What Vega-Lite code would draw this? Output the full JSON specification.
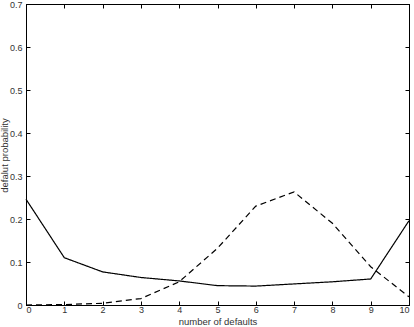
{
  "$schema": "https://vega.github.io/schema/vega-lite/v6.json",
  "width": 383,
  "height": 301,
  "autosize": "none",
  "padding": {"left": 26, "top": 4, "right": 4, "bottom": 22},
  "background": "white",
  "config": {
    "view": {"stroke": "black", "strokeWidth": 1},
    "axis": {"labelFont": "Liberation Sans", "titleFont": "Liberation Sans", "labelFontSize": 9, "titleFontSize": 9.5, "titleFontWeight": "normal", "labelColor": "#333", "titleColor": "#333", "domainColor": "black", "tickColor": "black", "grid": false}
  },
  "data": {"values": [
    {"n": 0, "p": 0.246, "s": "a"}, {"n": 1, "p": 0.110, "s": "a"}, {"n": 2, "p": 0.077, "s": "a"}, {"n": 3, "p": 0.064, "s": "a"}, {"n": 4, "p": 0.056, "s": "a"}, {"n": 5, "p": 0.045, "s": "a"}, {"n": 6, "p": 0.044, "s": "a"}, {"n": 7, "p": 0.049, "s": "a"}, {"n": 8, "p": 0.054, "s": "a"}, {"n": 9, "p": 0.0605, "s": "a"}, {"n": 10, "p": 0.196, "s": "a"},
    {"n": 0, "p": 0.0, "s": "b"}, {"n": 1, "p": 0.001, "s": "b"}, {"n": 2, "p": 0.004, "s": "b"}, {"n": 3, "p": 0.015, "s": "b"}, {"n": 4, "p": 0.054, "s": "b"}, {"n": 5, "p": 0.132, "s": "b"}, {"n": 6, "p": 0.230, "s": "b"}, {"n": 7, "p": 0.263, "s": "b"}, {"n": 8, "p": 0.190, "s": "b"}, {"n": 9, "p": 0.089, "s": "b"}, {"n": 10, "p": 0.019, "s": "b"}
  ]},
  "layer": [
    {
      "mark": {"type": "line", "color": "black", "strokeWidth": 1.2},
      "encoding": {
        "x": {"field": "n", "type": "quantitative", "scale": {"domain": [0, 10], "nice": false}, "axis": {"orient": "bottom", "title": "number of defaults", "values": [0,1,2,3,4,5,6,7,8,9,10], "tickSize": -4, "labelPadding": 4, "titleY": 19.5, "titleBaseline": "alphabetic", "domain": true}},
        "y": {"field": "p", "type": "quantitative", "scale": {"domain": [0, 0.7], "nice": false}, "axis": {"orient": "left", "title": "defalut probability", "values": [0,0.1,0.2,0.3,0.4,0.5,0.6,0.7], "format": "~g", "tickSize": -4, "labelPadding": 8, "titleX": -17, "titleY": 151, "titleBaseline": "bottom"}},
        "strokeDash": {"field": "s", "type": "nominal", "scale": {"domain": ["a", "b"], "range": [[1, 0], [6, 4]]}, "legend": null}
      }
    },
    {
      "mark": {"type": "line", "opacity": 0},
      "encoding": {
        "x": {"field": "n", "type": "quantitative", "scale": {"domain": [0, 10], "nice": false}, "axis": {"orient": "top", "title": null, "labels": false, "values": [0,1,2,3,4,5,6,7,8,9,10], "tickSize": -4}},
        "y": {"field": "p", "type": "quantitative", "scale": {"domain": [0, 0.7], "nice": false}, "axis": {"orient": "right", "title": null, "labels": false, "values": [0,0.1,0.2,0.3,0.4,0.5,0.6,0.7], "tickSize": -4}}
      }
    }
  ],
  "resolve": {"scale": {"x": "independent", "y": "independent"}, "axis": {"x": "independent", "y": "independent"}}
}
